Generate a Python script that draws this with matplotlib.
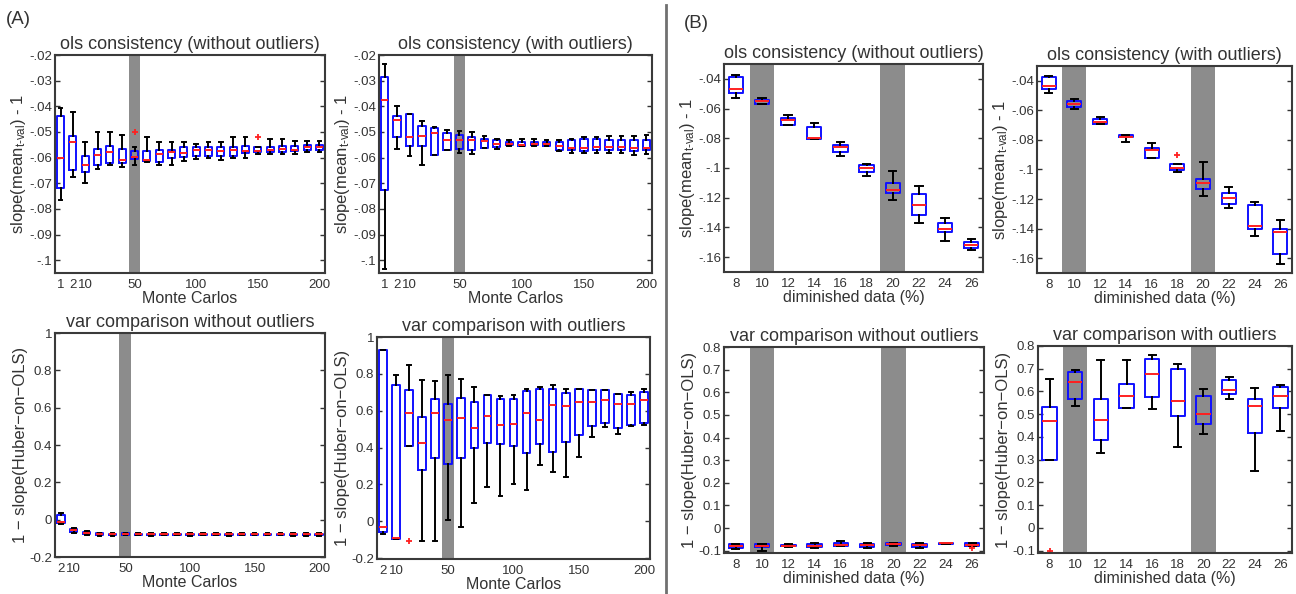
import matplotlib.pyplot as plt

plt.rcParams['font.family'] = ['Liberation Sans', 'DejaVu Sans']
plt.rcParams['mathtext.fontset'] = 'custom'
plt.rcParams['mathtext.rm'] = 'Liberation Sans'
plt.rcParams['mathtext.it'] = 'Liberation Sans:italic'
plt.rcParams['text.color'] = '#333333'

W, H = 1296, 594

# ---- categories ----
mc_ols_labels = ['1', '2', '10', '50', '100', '150', '200']
mc_ols_tickpos = [1, 2, 3, 7, 12, 17, 22]
mc_var_labels = ['2', '10', '50', '100', '150', '200']
mc_var_tickpos = [1, 2, 6, 11, 16, 21]
dim_labels = ['8', '10', '12', '14', '16', '18', '20', '22', '24', '26']

# ---- (A) ols consistency without outliers : 1, 2, 10, 20, ..., 200 ----
a1_hi = [-0.0407, -0.0424, -0.054, -0.050, -0.0502, -0.051, -0.0559, -0.0518, -0.0538, -0.0538, -0.054,
         -0.0547, -0.054, -0.0538, -0.052, -0.052, -0.0557, -0.0527, -0.0527, -0.0534, -0.0534, -0.0534]
a1_q3 = [-0.0439, -0.0517, -0.0592, -0.0566, -0.0553, -0.0566, -0.0576, -0.0573, -0.057, -0.057, -0.056,
         -0.056, -0.056, -0.056, -0.056, -0.0553, -0.056, -0.056, -0.0556, -0.0553, -0.055, -0.055]
a1_med = [-0.060, -0.0538, -0.0628, -0.059, -0.058, -0.061, -0.0598, -0.0609, -0.0586, -0.058, -0.0583,
          -0.057, -0.057, -0.0576, -0.0572, -0.0573, -0.0573, -0.057, -0.0566, -0.0569, -0.056, -0.056]
a1_q1 = [-0.0718, -0.0648, -0.0657, -0.0627, -0.0621, -0.0623, -0.0607, -0.0614, -0.0618, -0.060, -0.0596,
         -0.0592, -0.0592, -0.0592, -0.0594, -0.0583, -0.058, -0.058, -0.058, -0.0575, -0.0569, -0.0569]
a1_lo = [-0.0764, -0.0676, -0.070, -0.0643, -0.063, -0.0638, -0.0628, -0.0618, -0.0627, -0.0627, -0.0614,
         -0.0605, -0.060, -0.0608, -0.060, -0.060, -0.0586, -0.0586, -0.0586, -0.0586, -0.058, -0.058]
a1_fliers = {6: [-0.050], 16: [-0.052]}

# ---- (A) ols consistency with outliers ----
a2_hi = [-0.0236, -0.040, -0.0429, -0.0459, -0.0482, -0.0491, -0.0498, -0.0502, -0.0515, -0.0528, -0.0533,
         -0.0528, -0.0528, -0.0533, -0.0533, -0.0528, -0.052, -0.052, -0.0515, -0.0515, -0.0515, -0.0511]
a2_q3 = [-0.0287, -0.0436, -0.0429, -0.0478, -0.0485, -0.0504, -0.0511, -0.052, -0.0528, -0.053, -0.0541,
         -0.0541, -0.0541, -0.0541, -0.0541, -0.053, -0.0528, -0.0528, -0.053, -0.053, -0.0533, -0.053]
a2_med = [-0.0375, -0.0453, -0.0521, -0.0515, -0.0504, -0.053, -0.0533, -0.053, -0.0537, -0.0546, -0.0546,
          -0.055, -0.0546, -0.0546, -0.0556, -0.0563, -0.0563, -0.056, -0.056, -0.056, -0.0563, -0.0563]
a2_q1 = [-0.0725, -0.0521, -0.0554, -0.0556, -0.0589, -0.0569, -0.0567, -0.0569, -0.0563, -0.0559, -0.0552,
         -0.0556, -0.0552, -0.0556, -0.0572, -0.0572, -0.0573, -0.0569, -0.0572, -0.0572, -0.0576, -0.0572]
a2_lo = [-0.1033, -0.0565, -0.0595, -0.063, -0.0591, -0.0569, -0.0582, -0.0586, -0.0563, -0.0565, -0.0556,
         -0.0556, -0.0554, -0.0556, -0.0576, -0.0582, -0.0582, -0.0582, -0.0582, -0.0582, -0.0589, -0.0586]
a2_fliers = {}

# ---- (A) var comparison without outliers : 2, 10, 20, ..., 200 ----
a3_hi = [0.035, -0.045, -0.062, -0.070, -0.072, -0.070, -0.072, -0.072, -0.072, -0.070, -0.072,
         -0.072, -0.072, -0.072, -0.072, -0.070, -0.070, -0.072, -0.072, -0.072, -0.072]
a3_q3 = [0.025, -0.050, -0.067, -0.074, -0.075, -0.074, -0.075, -0.075, -0.075, -0.075, -0.076,
         -0.075, -0.075, -0.076, -0.075, -0.075, -0.075, -0.075, -0.076, -0.076, -0.076]
a3_med = [-0.010, -0.058, -0.072, -0.078, -0.078, -0.078, -0.078, -0.079, -0.078, -0.078, -0.079,
          -0.078, -0.078, -0.079, -0.078, -0.078, -0.078, -0.078, -0.079, -0.079, -0.079]
a3_q1 = [-0.020, -0.065, -0.078, -0.082, -0.082, -0.081, -0.081, -0.082, -0.081, -0.081, -0.082,
         -0.081, -0.081, -0.082, -0.081, -0.081, -0.081, -0.081, -0.082, -0.082, -0.082]
a3_lo = [-0.025, -0.070, -0.082, -0.085, -0.085, -0.084, -0.084, -0.085, -0.084, -0.084, -0.085,
         -0.084, -0.084, -0.085, -0.084, -0.084, -0.084, -0.084, -0.085, -0.085, -0.085]
a3_fliers = {}

# ---- (A) var comparison with outliers ----
a4_hi = [0.928, 0.796, 0.847, 0.769, 0.760, 0.792, 0.774, 0.729, 0.684, 0.679, 0.684,
         0.717, 0.729, 0.742, 0.720, 0.720, 0.715, 0.711, 0.693, 0.699, 0.717]
a4_q3 = [0.928, 0.738, 0.715, 0.567, 0.666, 0.634, 0.670, 0.648, 0.684, 0.661, 0.661,
         0.708, 0.720, 0.720, 0.697, 0.720, 0.715, 0.711, 0.690, 0.684, 0.702]
a4_med = [-0.032, -0.092, 0.588, 0.422, 0.588, 0.549, 0.558, 0.507, 0.570, 0.525, 0.527,
          0.588, 0.552, 0.630, 0.625, 0.648, 0.648, 0.657, 0.635, 0.635, 0.657]
a4_q1 = [-0.056, -0.097, 0.408, 0.278, 0.345, 0.309, 0.341, 0.395, 0.426, 0.419, 0.408,
         0.372, 0.419, 0.374, 0.431, 0.467, 0.516, 0.531, 0.504, 0.522, 0.531]
a4_lo = [-0.070, -0.097, 0.408, -0.105, -0.110, 0.007, -0.029, 0.097, 0.188, 0.137, 0.202,
         0.170, 0.305, 0.269, 0.242, 0.350, 0.458, 0.509, 0.473, 0.516, 0.522]
a4_fliers = {2: [-0.105]}

# ---- (B) ols consistency without outliers : 8 ... 26 % ----
b1_hi = [-0.0375, -0.0532, -0.0644, -0.0695, -0.0822, -0.0974, -0.1023, -0.112, -0.1336, -0.1477]
b1_q3 = [-0.0389, -0.0539, -0.0666, -0.0724, -0.0847, -0.0981, -0.1104, -0.1175, -0.137, -0.1499]
b1_med = [-0.0465, -0.055, -0.0679, -0.0796, -0.0856, -0.0997, -0.1149, -0.1247, -0.141, -0.1517]
b1_q1 = [-0.0494, -0.0568, -0.0711, -0.0802, -0.0889, -0.103, -0.1171, -0.1314, -0.1432, -0.154]
b1_lo = [-0.0532, -0.0572, -0.0713, -0.0806, -0.0918, -0.1053, -0.1216, -0.1372, -0.1488, -0.1555]
b1_fliers = {}

# ---- (B) ols consistency with outliers ----
b2_hi = [-0.0366, -0.0522, -0.0646, -0.0765, -0.0822, -0.0964, -0.0952, -0.1117, -0.1221, -0.134]
b2_q3 = [-0.0377, -0.0535, -0.0659, -0.0765, -0.0855, -0.0964, -0.1065, -0.1158, -0.1239, -0.1403]
b2_med = [-0.0438, -0.0558, -0.068, -0.0777, -0.0867, -0.0991, -0.1092, -0.1196, -0.1381, -0.1426]
b2_q1 = [-0.0456, -0.0578, -0.0691, -0.0783, -0.0919, -0.1002, -0.1133, -0.123, -0.1401, -0.1572]
b2_lo = [-0.0483, -0.0589, -0.0693, -0.0817, -0.0921, -0.1018, -0.1176, -0.1259, -0.1453, -0.164]
b2_fliers = {5: [-0.0905]}

# ---- (B) var comparison without outliers ----
b3_hi = [-0.069, -0.069, -0.070, -0.066, -0.055, -0.068, -0.066, -0.067, -0.065, -0.067]
b3_q3 = [-0.072, -0.072, -0.073, -0.072, -0.066, -0.070, -0.068, -0.071, -0.066, -0.068]
b3_med = [-0.079, -0.078, -0.078, -0.078, -0.074, -0.075, -0.072, -0.075, -0.068, -0.074]
b3_q1 = [-0.086, -0.085, -0.081, -0.085, -0.078, -0.084, -0.075, -0.083, -0.071, -0.078]
b3_lo = [-0.091, -0.099, -0.083, -0.090, -0.080, -0.088, -0.077, -0.088, -0.072, -0.080]
b3_fliers = {9: [-0.088]}

# ---- (B) var comparison with outliers ----
b4_hi = [0.655, 0.695, 0.739, 0.739, 0.761, 0.721, 0.611, 0.663, 0.615, 0.630]
b4_q3 = [0.531, 0.685, 0.567, 0.633, 0.742, 0.698, 0.582, 0.649, 0.565, 0.618]
b4_med = [0.470, 0.642, 0.474, 0.579, 0.678, 0.560, 0.502, 0.608, 0.538, 0.579]
b4_q1 = [0.300, 0.565, 0.387, 0.528, 0.576, 0.492, 0.458, 0.589, 0.416, 0.528]
b4_lo = [0.300, 0.538, 0.329, 0.528, 0.524, 0.358, 0.415, 0.569, 0.252, 0.426]
b4_fliers = {0: [-0.1]}

# ---- y ticks ----
ols_a_ticks = [-0.1, -0.09, -0.08, -0.07, -0.06, -0.05, -0.04, -0.03, -0.02]
ols_a_ticklabels = ['-.1', '-.09', '-.08', '-.07', '-.06', '-.05', '-.04', '-.03', '-.02']
var_a_ticks = [-0.2, 0, 0.2, 0.4, 0.6, 0.8, 1]
var_a_ticklabels = ['-0.2', '0', '0.2', '0.4', '0.6', '0.8', '1']
ols_b_ticks = [-0.16, -0.14, -0.12, -0.1, -0.08, -0.06, -0.04]
ols_b_ticklabels = ['-.16', '-.14', '-.12', '-.1', '-.08', '-.06', '-.04']
var_b_ticks = [-0.1, 0, 0.1, 0.2, 0.3, 0.4, 0.5, 0.6, 0.7, 0.8]
var_b_ticklabels = ['-0.1', '0', '0.1', '0.2', '0.3', '0.4', '0.5', '0.6', '0.7', '0.8']

ols_ylabel = r'slope(mean$_{\mathrm{t\text{-}val}}$) - 1'
var_ylabel = '1 \u2212 slope(Huber\u2212on\u2212OLS)'

fig = plt.figure(figsize=(W / 100, H / 100), dpi=100)


def make_axes(left, right, top, bottom):
    return fig.add_axes([left / W, 1 - bottom / H, (right - left) / W, (bottom - top) / H])


def panel(ax, lo, q1, med, q3, hi, fliers, bands, xticks, xlabels, yticks, ylabels, ylim,
          title, xlabel, ylabel, width):
    stats = []
    for i in range(len(med)):
        stats.append(dict(whislo=lo[i], q1=q1[i], med=med[i], q3=q3[i], whishi=hi[i],
                          fliers=fliers.get(i, [])))
    n = len(med)
    for b in bands:
        ax.axvspan(b - 0.47, b + 0.47, color='#8c8c8c', lw=0, zorder=0)
    ax.bxp(stats, positions=list(range(1, n + 1)), widths=width,
           boxprops=dict(color='#1010ff', lw=1.4),
           medianprops=dict(color='#ff2020', lw=1.4),
           whiskerprops=dict(color='black', lw=1.4),
           capprops=dict(color='black', lw=1.4),
           flierprops=dict(marker='+', markeredgecolor='#ff2020', markersize=5, mew=1.3))
    ax.set_xlim(0.55, n + 0.45)
    ax.set_ylim(*ylim)
    ax.set_xticks(xticks)
    ax.set_xticklabels(xlabels)
    ax.set_yticks(yticks)
    ax.set_yticklabels(ylabels)
    ax.tick_params(axis='x', length=0, labelsize=9.5, pad=4, labelcolor='#333333')
    ax.tick_params(axis='y', direction='in', length=3.5, width=1, right=True,
                   labelsize=9.5, pad=2, labelcolor='#333333', color='#333333')
    for s in ax.spines.values():
        s.set_color('#3a3a3a')
        s.set_linewidth(1.5)
    ax.set_title(title, fontsize=13, pad=4, color='#333333')
    ax.set_xlabel(xlabel, fontsize=11.5, labelpad=0, color='#333333')
    ax.set_ylabel(ylabel, fontsize=12, labelpad=1, color='#333333')


ax = make_axes(55, 325, 55, 273)
panel(ax, a1_lo, a1_q1, a1_med, a1_q3, a1_hi, a1_fliers, [7], mc_ols_tickpos, mc_ols_labels,
      ols_a_ticks, ols_a_ticklabels, (-0.105, -0.02), 'ols consistency (without outliers)',
      'Monte Carlos', ols_ylabel, 0.58)

ax = make_axes(379, 652, 55, 273)
panel(ax, a2_lo, a2_q1, a2_med, a2_q3, a2_hi, a2_fliers, [7], mc_ols_tickpos, mc_ols_labels,
      ols_a_ticks, ols_a_ticklabels, (-0.105, -0.02), 'ols consistency (with outliers)',
      'Monte Carlos', ols_ylabel, 0.58)

ax = make_axes(55, 325, 333, 557)
panel(ax, a3_lo, a3_q1, a3_med, a3_q3, a3_hi, a3_fliers, [6], mc_var_tickpos, mc_var_labels,
      var_a_ticks, var_a_ticklabels, (-0.2, 1), 'var comparison without outliers',
      'Monte Carlos', var_ylabel, 0.58)

ax = make_axes(377, 650, 337, 559)
panel(ax, a4_lo, a4_q1, a4_med, a4_q3, a4_hi, a4_fliers, [6], mc_var_tickpos, mc_var_labels,
      var_a_ticks, var_a_ticklabels, (-0.205, 1), 'var comparison with outliers',
      'Monte Carlos', var_ylabel, 0.58)

ax = make_axes(724, 983, 64, 272)
panel(ax, b1_lo, b1_q1, b1_med, b1_q3, b1_hi, b1_fliers, [2, 7], list(range(1, 11)), dim_labels,
      ols_b_ticks, ols_b_ticklabels, (-0.17, -0.03), 'ols consistency (without outliers)',
      'diminished data (%)', ols_ylabel, 0.55)

ax = make_axes(1037, 1292, 66, 273)
panel(ax, b2_lo, b2_q1, b2_med, b2_q3, b2_hi, b2_fliers, [2, 7], list(range(1, 11)), dim_labels,
      ols_b_ticks, ols_b_ticklabels, (-0.17, -0.03), 'ols consistency (with outliers)',
      'diminished data (%)', ols_ylabel, 0.55)

ax = make_axes(724, 984, 347, 553)
panel(ax, b3_lo, b3_q1, b3_med, b3_q3, b3_hi, b3_fliers, [2, 7], list(range(1, 11)), dim_labels,
      var_b_ticks, var_b_ticklabels, (-0.11, 0.8), 'var comparison without outliers',
      'diminished data (%)', var_ylabel, 0.55)

ax = make_axes(1038, 1292, 346, 553)
panel(ax, b4_lo, b4_q1, b4_med, b4_q3, b4_hi, b4_fliers, [2, 7], list(range(1, 11)), dim_labels,
      var_b_ticks, var_b_ticklabels, (-0.11, 0.8), 'var comparison with outliers',
      'diminished data (%)', var_ylabel, 0.55)

# panel letters and separator
fig.text(6 / W, 1 - 20 / H, '(A)', fontsize=13.5, va='center', ha='left')
fig.text(684 / W, 1 - 24 / H, '(B)', fontsize=13.5, va='center', ha='left')
fig.add_artist(plt.Line2D([666 / W, 666 / W], [0, 1 - 5 / H], transform=fig.transFigure,
                          color='#707070', lw=2))

fig.savefig('out.png', dpi=100)
